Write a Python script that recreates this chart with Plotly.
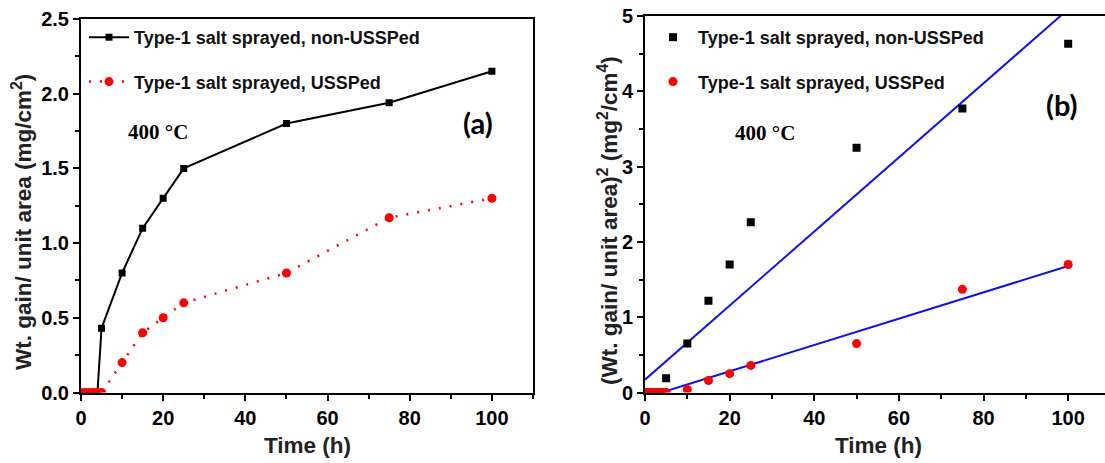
import plotly.graph_objects as go

# ---- data ----
time_h = [0, 1, 2, 3, 4, 5, 10, 15, 20, 25, 50, 75, 100]
wg_non_ussp = [0, 0, 0, 0, 0, 0.43, 0.80, 1.10, 1.30, 1.50, 1.80, 1.94, 2.15]
wg_ussp = [0, 0, 0, 0, 0, 0, 0.20, 0.40, 0.50, 0.60, 0.80, 1.17, 1.30]

wg2_non_ussp = [0, 0, 0, 0, 0, 0.19, 0.65, 1.22, 1.70, 2.26, 3.25, 3.77, 4.63]
wg2_ussp = [0, 0, 0, 0, 0, 0, 0.04, 0.16, 0.25, 0.36, 0.65, 1.37, 1.70]

fit_x = [0, 100]
fit_non_ussp = [0.17, 5.09]
fit_ussp = [-0.068, 1.68]

name_non = "Type-1 salt sprayed, non-USSPed"
name_us = "Type-1 salt sprayed, USSPed"

W, H = 1105, 463
fig = go.Figure()

# panel (a)
fig.add_trace(go.Scatter(x=time_h, y=wg_non_ussp, mode="lines+markers", name=name_non,
                         line=dict(color="black", width=2),
                         marker=dict(symbol="square", size=7, color="black"),
                         xaxis="x", yaxis="y", legend="legend", legendgroup="a1"))
fig.add_trace(go.Scatter(x=time_h, y=wg_ussp, mode="lines+markers", name=name_us,
                         line=dict(color="red", width=2.5, dash="2px,9px"),
                         marker=dict(symbol="circle", size=9, color="red"),
                         xaxis="x", yaxis="y", legend="legend", legendgroup="a2"))

# panel (b)
fig.add_trace(go.Scatter(x=fit_x, y=fit_non_ussp, mode="lines", showlegend=False,
                         line=dict(color="#1010f0", width=2), xaxis="x2", yaxis="y2"))
fig.add_trace(go.Scatter(x=fit_x, y=fit_ussp, mode="lines", showlegend=False,
                         line=dict(color="#1010f0", width=2), xaxis="x2", yaxis="y2"))
fig.add_trace(go.Scatter(x=time_h, y=wg2_non_ussp, mode="markers", name=name_non,
                         marker=dict(symbol="square", size=8, color="black"),
                         xaxis="x2", yaxis="y2", legend="legend2", legendgroup="b1"))
fig.add_trace(go.Scatter(x=time_h, y=wg2_ussp, mode="markers", name=name_us,
                         marker=dict(symbol="circle", size=9, color="red"),
                         xaxis="x2", yaxis="y2", legend="legend2", legendgroup="b2"))

tickfont = dict(family="Liberation Sans, Arial", size=20, color="black", weight="bold")
common = dict(showline=True, linecolor="black", linewidth=2, ticks="outside",
              ticklen=6, tickwidth=2, tickcolor="black", tickfont=tickfont,
              showgrid=False, zeroline=False, automargin=False)
minor_style = dict(ticks="outside", ticklen=4, tickwidth=2, tickcolor="black")

fig.update_layout(
    width=W, height=H,
    margin=dict(l=0, r=0, t=0, b=0, autoexpand=False),
    paper_bgcolor="white", plot_bgcolor="white",
    xaxis=dict(domain=[81 / W, 533 / W], range=[0, 110], dtick=20, tick0=0,
               minor=dict(dtick=10, **minor_style),
               mirror=True, anchor="y", **common),
    yaxis=dict(domain=[1 - 392.5 / H, 1 - 19 / H], range=[0, 2.5], dtick=0.5, tick0=0,
               tickformat=".1f",
               minor=dict(dtick=0.25, **minor_style),
               mirror=True, anchor="x", **common),
    xaxis2=dict(domain=[645 / W, 1.0], range=[0, 108.7], dtick=20, tick0=0,
                minor=dict(dtick=10, **minor_style),
                mirror=True, anchor="y2", **common),
    yaxis2=dict(domain=[1 - 392.5 / H, 1 - 16 / H], range=[0, 5], dtick=1, tick0=0,
                minor=dict(dtick=0.5, **minor_style),
                mirror=False, anchor="x2", **common),
    legend=dict(x=84 / W, y=1 - 19 / H, xanchor="left", yanchor="top",
                bgcolor="rgba(0,0,0,0)", itemwidth=40, tracegroupgap=18,
                font=dict(family="Liberation Sans, Arial", size=18, color="#111", weight="bold")),
    legend2=dict(x=648 / W, y=1 - 19 / H, xanchor="left", yanchor="top",
                 bgcolor="rgba(0,0,0,0)", itemwidth=40, tracegroupgap=18,
                 font=dict(family="Liberation Sans, Arial", size=18, color="#111", weight="bold")),
    showlegend=True,
)

title_font = dict(family="Liberation Sans, Arial", size=22.5, color="#222", weight="bold")
anns = [
    dict(text="Wt. gain/ unit area (mg/cm<sup>2</sup>)", x=22 / W, y=1 - 222 / H, textangle=-90, font=title_font),
    dict(text="(Wt. gain/ unit area)<sup>2</sup> (mg<sup>2</sup>/cm<sup>4</sup>)", x=608 / W, y=1 - 221 / H,
         textangle=-90, font=title_font),
    dict(text="Time (h)", x=307 / W, y=1 - 445 / H, font=title_font),
    dict(text="Time (h)", x=878 / W, y=1 - 445 / H, font=title_font),
    dict(text="400 °C", x=158 / W, y=1 - 132 / H,
         font=dict(family="Liberation Serif, Times New Roman", size=21, color="black", weight="bold")),
    dict(text="400 °C", x=765 / W, y=1 - 133 / H,
         font=dict(family="Liberation Serif, Times New Roman", size=21, color="black", weight="bold")),
    dict(text="(a)", x=478 / W, y=1 - 122 / H,
         font=dict(family="Lato, Open Sans", size=29, color="black", weight="bold")),
    dict(text="(b)", x=1062 / W, y=1 - 104 / H,
         font=dict(family="Lato, Open Sans", size=29, color="black", weight="bold")),
]
for a in anns:
    a.update(xref="paper", yref="paper", showarrow=False, xanchor="center", yanchor="middle")
fig.update_layout(annotations=anns)

fig.write_html("out.html")
